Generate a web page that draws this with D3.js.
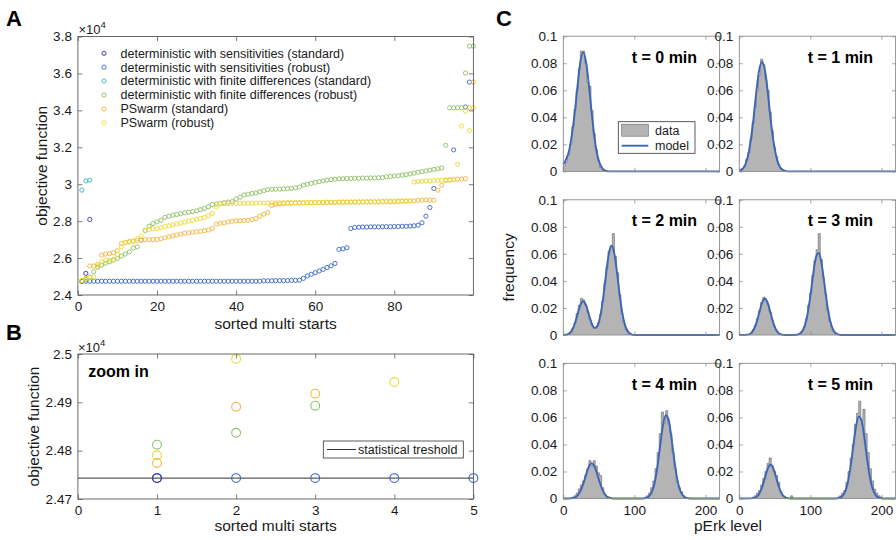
<!DOCTYPE html>
<html><head><meta charset="utf-8">
<script src="https://cdn.jsdelivr.net/npm/d3@7"></script>
<style>body{margin:0;background:#fff}</style>
</head><body>
<script>
// ---------------- DATA ----------------
const seriesNames = [
  "deterministic with sensitivities (standard)",
  "deterministic with sensitivities (robust)",
  "deterministic with finite differences (standard)",
  "deterministic with finite differences (robust)",
  "PSwarm (standard)",
  "PSwarm (robust)"
];
const seriesColors = ["#3d2f9c", "#3866c2", "#35b5c6", "#8cc063", "#f3b43c", "#ecd92e"];

// Panel A: objective function (x 1e4) by sorted multi-start index 1..100
const sensStd = [2.4745, 2.517, 2.809];
const sensRob = [
  2.4745,2.4745,2.4745,2.4745,2.4745,2.4745,2.4745,2.4745,2.4745,2.4745,
  2.4745,2.4745,2.4745,2.4745,2.4745,2.4745,2.4745,2.4745,2.4745,2.4745,
  2.4745,2.4745,2.4745,2.4745,2.4745,2.4745,2.4745,2.4745,2.4745,2.4745,
  2.4745,2.4745,2.4745,2.4745,2.4745,2.4745,2.4745,2.4745,2.4745,2.4745,
  2.4745,2.4745,2.4745,2.4745,2.4745,2.4745,2.477,2.477,2.477,2.478,
  2.478,2.478,2.478,2.479,2.479,2.480,2.490,2.503,2.512,2.521,
  2.530,2.539,2.549,2.558,2.571,2.647,2.650,2.656,2.760,2.766,
  2.767,2.768,2.768,2.769,2.769,2.769,2.770,2.770,2.770,2.771,
  2.771,2.772,2.772,2.773,2.775,2.778,2.791,2.827,2.874,2.977,
  null,null,null,null,3.186,null,null,3.418,3.553,null
];
const fdStd = [2.968, 3.018, 3.022];
const fdRob = [
  2.476,2.484,2.497,2.526,2.550,2.562,2.572,2.580,2.589,2.598,
  2.611,2.622,2.634,2.655,2.661,2.697,2.748,2.773,2.787,2.796,
  2.805,2.820,2.827,2.832,2.836,2.840,2.845,2.848,2.852,2.856,
  2.862,2.869,2.878,2.890,2.893,2.896,2.900,2.903,2.906,2.920,
  2.930,2.942,2.946,2.950,2.953,2.960,2.965,2.971,2.972,2.973,
  2.974,2.975,2.976,2.977,2.980,2.985,2.995,3.000,3.005,3.010,
  3.014,3.018,3.022,3.025,3.027,3.029,3.030,3.031,3.031,3.032,
  3.032,3.033,3.033,3.034,3.034,3.035,3.036,3.040,3.042,3.044,
  3.046,3.049,3.052,3.056,3.060,3.065,3.068,3.072,3.076,3.080,
  3.084,3.088,3.211,3.414,3.414,3.414,3.414,3.602,3.748,3.748
];
const psStd = [
  2.478,2.490,2.557,2.557,2.565,2.616,2.622,2.625,2.629,2.640,
  2.679,2.685,2.690,2.692,2.695,2.697,2.700,2.700,2.700,2.701,
  2.705,2.710,2.715,2.720,2.725,2.730,2.735,2.737,2.740,2.742,
  2.745,2.748,2.752,2.760,2.784,2.788,2.791,2.796,2.799,2.802,
  2.802,2.803,2.805,2.808,2.814,2.827,2.838,2.847,2.885,2.890,
  2.893,2.895,2.896,2.897,2.898,2.898,2.899,2.899,2.900,2.900,
  2.900,2.900,2.901,2.901,2.901,2.902,2.902,2.902,2.903,2.903,
  2.903,2.903,2.904,2.904,2.904,2.904,2.905,2.905,2.905,2.905,
  2.906,2.907,2.908,2.909,2.910,2.912,2.914,2.915,2.915,2.913,
  2.968,2.995,3.020,3.022,3.025,3.027,3.028,3.030,3.414,3.553
];
const psRob = [
  2.478,2.490,2.495,2.497,2.556,2.580,2.585,2.590,2.593,2.620,
  2.660,2.683,2.686,2.690,2.705,2.720,2.751,2.755,2.758,2.760,
  2.765,2.770,2.775,2.780,2.785,2.790,2.795,2.800,2.805,2.810,
  2.815,2.820,2.830,2.842,2.877,2.895,2.895,2.895,2.896,2.896,
  2.896,2.897,2.897,2.897,2.898,2.898,2.898,2.899,2.899,2.899,
  2.900,2.900,2.900,2.900,2.901,2.901,2.901,2.901,2.902,2.902,
  2.902,2.902,2.903,2.903,2.903,2.903,2.904,2.904,2.904,2.905,
  2.905,2.905,2.906,2.906,2.906,2.907,2.907,2.908,2.908,2.909,
  2.909,2.910,2.910,2.910,3.012,3.014,3.015,3.017,3.018,3.020,
  3.021,3.022,3.024,3.025,3.026,3.108,3.315,3.396,3.290,3.414
];
const seriesA = [sensStd, sensRob, fdStd, fdRob, psStd, psRob];
const xTicksA = [0, 20, 40, 60, 80];
const yTicksA = [2.4, 2.6, 2.8, 3.0, 3.2, 3.4, 3.6, 3.8];

// Panel B: zoom on best starts 1..5
const zSensStd = [2.47432, null, null, null, null];
const zSensRob = [2.47432, 2.47432, 2.47432, 2.47432, 2.47432];
const zFdStd   = [null, null, null, null, null];
const zFdRob   = [2.48124, 2.4837, 2.4893, null, null];
const zPsStd   = [2.47746, 2.4891, 2.4918, null, null];
const zPsRob   = [2.47904, 2.4990, null, 2.4942, null];
const seriesB = [zSensStd, zSensRob, zFdStd, zFdRob, zPsStd, zPsRob];
const threshold = 2.47432;
const xTicksB = [0, 1, 2, 3, 4, 5];
const yTicksB = [2.47, 2.48, 2.49, 2.5];

// Panel C: pErk histograms (bin width 3; segments [first bin edge, frequencies])
const binWidth = 3;
const timeLabels = ["t = 0 min", "t = 1 min", "t = 2 min", "t = 3 min", "t = 4 min", "t = 5 min"];
const histT0 = [[0, [0.004,0.007,0.012,0.020,0.033,0.046,0.060,0.076,0.089,0.089,0.080,0.066,0.063,0.045,0.028,0.016,0.008,0.003,0.001]]];
const histT1 = [[3, [0.002,0.004,0.009,0.014,0.024,0.036,0.048,0.060,0.071,0.083,0.079,0.068,0.060,0.044,0.030,0.018,0.011,0.005,0.002]]];
const histT2 = [[9, [0.002,0.005,0.009,0.016,0.022,0.027,0.026,0.022,0.017,0.011,0.007,0.005,0.005,0.009,0.015,0.025,0.038,0.050,0.062,0.066,0.075,0.058,0.046,0.030,0.016,0.008,0.004,0.001]]];
const histT3 = [[15, [0.001,0.004,0.007,0.012,0.018,0.024,0.028,0.025,0.022,0.017,0.011,0.006,0.003,0.001]],
                [84, [0.001,0.003,0.006,0.012,0.022,0.031,0.044,0.055,0.063,0.075,0.056,0.042,0.030,0.018,0.010,0.004,0.002]]];
const histT4 = [[12, [0.001,0.002,0.004,0.007,0.010,0.013,0.017,0.022,0.028,0.024,0.028,0.024,0.019,0.017,0.008,0.003,0.001,0.001]],
                [114, [0.001,0.002,0.004,0.008,0.013,0.022,0.034,0.048,0.064,0.056,0.065,0.055,0.048,0.034,0.022,0.012,0.008,0.005,0.002]]];
const histT5 = [[18, [0.001,0.002,0.004,0.006,0.010,0.015,0.020,0.026,0.030,0.024,0.020,0.017,0.012,0.005,0.002,0.001]],
                [72, [0.002]],
                [138, [0.001,0.002,0.004,0.006,0.012,0.020,0.030,0.040,0.055,0.063,0.072,0.058,0.066,0.048,0.034,0.022,0.013,0.007,0.004,0.002,0.001]]];
// model curves sampled every 4 pErk units starting at given level
const modelStep = 4;
const modelT0 = [0, [0.005,0.009,0.015,0.027,0.043,0.063,0.081,0.088,0.081,0.064,0.043,0.0245,0.012,0.005,0.0017,0.0004]];
const modelT1 = [0, [0.0005,0.0016,0.0045,0.011,0.0225,0.039,0.059,0.075,0.081,0.075,0.059,0.039,0.0225,0.011,0.0045,0.0016,0.0005]];
const modelT2 = [4, [0.0003,0.0011,0.0034,0.0081,0.0152,0.0221,0.025,0.0221,0.0152,0.0086,0.0053,0.0067,0.0139,0.0271,0.0445,0.0598,0.066,0.0598,0.0445,0.0271,0.0136,0.0056,0.0019,0.0005]];
const modelT3 = [12, [0.0003,0.0012,0.0037,0.0088,0.0164,0.0238,0.027,0.0238,0.0164,0.0088,0.0037,0.0012,0.0003,0,0,0,0,0.0002,0.0007,0.0023,0.0066,0.0152,0.0289,0.0451,0.0577,0.0606,0.0523,0.037,0.0215,0.0102,0.004,0.0013,0.0003]];
const modelT4 = [12, [0.0002,0.0007,0.0022,0.0054,0.0107,0.0175,0.0236,0.026,0.0236,0.0175,0.0107,0.0054,0.0022,0.0007,0.0002,0,0,0,0,0,0,0,0,0,0,0,0.0003,0.0013,0.0041,0.0104,0.0218,0.0376,0.0531,0.0616,0.0587,0.0458,0.0294,0.0154,0.0067,0.0024,0.0007,0.0002]];
const modelT5 = [20, [0.0003,0.0011,0.0034,0.0081,0.0152,0.0221,0.025,0.0221,0.0152,0.0081,0.0034,0.0011,0.0003,0,0,0,0,0,0,0,0,0,0,0,0,0,0,0,0,0,0.0003,0.0013,0.004,0.0102,0.0215,0.037,0.0523,0.0606,0.0577,0.0451,0.0289,0.0152,0.0066,0.0023,0.0007,0.0002]];
const histsC = [histT0, histT1, histT2, histT3, histT4, histT5];
const modelsC = [modelT0, modelT1, modelT2, modelT3, modelT4, modelT5];
const xDomainC = [0, 220];
const xTicksC = [0, 100, 200];
const yTicksC = [0, 0.02, 0.04, 0.06, 0.08, 0.1];

// ---------------- DRAW ----------------
const FF = '"Liberation Sans", Arial, Helvetica, sans-serif';
const W = 896, H = 540;
const svg = d3.select("body").append("svg").attr("width", W).attr("height", H)
  .attr("font-family", FF).style("background", "#fff");

function drawAxes(g, x, y, xt, yt, o) {
  const [x0, x1] = x.range(), [y0, y1] = y.range();
  const style = sel => {
    sel.attr("font-family", FF).attr("font-size", o.fs);
    sel.select(".domain").remove();
    sel.selectAll("line").attr("stroke", o.color).attr("stroke-width", 0.8);
    sel.selectAll("text").attr("fill", "#1a1a1a");
  };
  g.append("g").attr("transform", `translate(0,${y0})`)
    .call(d3.axisBottom(x).tickValues(xt).tickSizeInner(-o.tick).tickSizeOuter(0).tickPadding(o.padX)
      .tickFormat(o.xlabels ? o.xfmt : () => "")).call(style);
  g.append("g").attr("transform", `translate(0,${y1})`)
    .call(d3.axisTop(x).tickValues(xt).tickSizeInner(-o.tick).tickSizeOuter(0).tickFormat(() => "")).call(style);
  g.append("g").attr("transform", `translate(${x0},0)`)
    .call(d3.axisLeft(y).tickValues(yt).tickSizeInner(-o.tick).tickSizeOuter(0).tickPadding(o.padY)
      .tickFormat(o.ylabels ? o.yfmt : () => "")).call(style);
  g.append("g").attr("transform", `translate(${x1},0)`)
    .call(d3.axisRight(y).tickValues(yt).tickSizeInner(-o.tick).tickSizeOuter(0).tickFormat(() => "")).call(style);
  g.append("rect").attr("x", x0).attr("y", y1).attr("width", x1 - x0).attr("height", y0 - y1)
    .attr("fill", "none").attr("stroke", o.color).attr("stroke-width", 0.9);
}

function panelLetter(txt, x, y) {
  svg.append("text").attr("x", x).attr("y", y).attr("font-size", 22).attr("font-weight", "bold").text(txt);
}
function times10(x, y) {
  const t = svg.append("text").attr("x", x).attr("y", y).attr("font-size", 13).attr("fill", "#1a1a1a");
  t.append("tspan").text("\u00d710");
  t.append("tspan").attr("dy", -6).attr("font-size", 9.5).text("4");
}
const fmtG = d3.format("~g");

// ---- Panel A ----
const xA = d3.scaleLinear().domain([0, 100]).range([77.9, 473.4]);
const yA = d3.scaleLinear().domain([2.4, 3.8]).range([295, 36.5]);
const gA = svg.append("g");
const drawOrder = [1, 0, 2, 3, 4, 5];
drawOrder.forEach(s => {
  gA.append("g").selectAll("circle")
    .data(seriesA[s].map((v, i) => [i + 1, v]).filter(d => d[1] !== null))
    .join("circle").attr("cx", d => xA(d[0])).attr("cy", d => yA(d[1])).attr("r", 2.1)
    .attr("fill", "none").attr("stroke", seriesColors[s]).attr("stroke-width", 0.9);
});
drawAxes(gA, xA, yA, xTicksA, yTicksA, {fs: 13.5, color: "#5a5a5a", tick: 4.5, padX: 6, padY: 6,
  xlabels: true, ylabels: true, xfmt: fmtG, yfmt: fmtG});
// legend A (no box)
seriesNames.forEach((n, i) => {
  const yy = 53.3 + i * 13.9;
  gA.append("circle").attr("cx", 104).attr("cy", yy).attr("r", 2.1).attr("fill", "none")
    .attr("stroke", seriesColors[i]).attr("stroke-width", 0.9);
  gA.append("text").attr("x", 120.5).attr("y", yy + 4.3).attr("font-size", 12.5).attr("fill", "#1a1a1a").text(n);
});
gA.append("text").attr("x", (77.9 + 473.4) / 2).attr("y", 328.5).attr("text-anchor", "middle")
  .attr("font-size", 15.5).attr("fill", "#1a1a1a").text("sorted multi starts");
gA.append("text").attr("transform", `translate(47,${(36.5 + 295) / 2}) rotate(-90)`).attr("text-anchor", "middle")
  .attr("font-size", 15.5).attr("fill", "#1a1a1a").text("objective function");
times10(78.5, 34);
panelLetter("A", 6, 25.5);

// ---- Panel B ----
const xB = d3.scaleLinear().domain([0, 5]).range([77.9, 473.4]);
const yB = d3.scaleLinear().domain([2.47, 2.5]).range([499, 354]);
const gB = svg.append("g");
gB.append("line").attr("x1", xB(0)).attr("x2", xB(5)).attr("y1", yB(threshold)).attr("y2", yB(threshold))
  .attr("stroke", "#333").attr("stroke-width", 1);
drawOrder.forEach(s => {
  gB.append("g").selectAll("circle")
    .data(seriesB[s].map((v, i) => [i + 1, v]).filter(d => d[1] !== null))
    .join("circle").attr("cx", d => xB(d[0])).attr("cy", d => yB(d[1])).attr("r", 4.4)
    .attr("fill", "none").attr("stroke", seriesColors[s]).attr("stroke-width", 1.1);
});
drawAxes(gB, xB, yB, xTicksB, yTicksB, {fs: 13.5, color: "#5a5a5a", tick: 4.5, padX: 6, padY: 6,
  xlabels: true, ylabels: true, xfmt: fmtG, yfmt: fmtG});
gB.append("text").attr("x", 88.3).attr("y", 376.5).attr("font-size", 16).attr("font-weight", "bold").text("zoom in");
// legend B
gB.append("rect").attr("x", 323.3).attr("y", 441).attr("width", 140).attr("height", 17)
  .attr("fill", "#fff").attr("stroke", "#333").attr("stroke-width", 0.8);
gB.append("line").attr("x1", 327).attr("x2", 356).attr("y1", 449.5).attr("y2", 449.5).attr("stroke", "#333").attr("stroke-width", 1);
gB.append("text").attr("x", 358).attr("y", 454).attr("font-size", 12.5).attr("fill", "#1a1a1a").text("statistical treshold");
gB.append("text").attr("x", (77.9 + 473.4) / 2).attr("y", 531).attr("text-anchor", "middle")
  .attr("font-size", 15.5).attr("fill", "#1a1a1a").text("sorted multi starts");
gB.append("text").attr("transform", `translate(39,${(354 + 499) / 2}) rotate(-90)`).attr("text-anchor", "middle")
  .attr("font-size", 15.5).attr("fill", "#1a1a1a").text("objective function");
times10(78, 351.5);
panelLetter("B", 6, 339.5);

// ---- Panel C ----
const colLeft = [563.3, 739.3], colW = 156.3;
const rowTop = [36.2, 199.8, 363.3], rowH = 135.2;
histsC.forEach((hist, k) => {
  const col = k % 2, row = Math.floor(k / 2);
  const x = d3.scaleLinear().domain(xDomainC).range([colLeft[col], colLeft[col] + colW]);
  const y = d3.scaleLinear().domain([0, 0.1]).range([rowTop[row] + rowH, rowTop[row]]);
  const g = svg.append("g");
  hist.forEach(([lo, vals]) => {
    const bins = vals.map((v, j) => ({a: lo + j * binWidth, b: lo + (j + 1) * binWidth, v}));
    const pts = [[lo, 0]];
    bins.forEach(d => { pts.push([d.a, d.v]); pts.push([d.b, d.v]); });
    pts.push([bins[bins.length - 1].b, 0]);
    const path = d3.line().x(d => x(d[0])).y(d => y(d[1]))(pts);
    g.append("path").attr("d", path + "Z").attr("fill", "#b4b4b4").attr("stroke", "none");
    g.append("path").attr("d", path)
      .attr("fill", "none").attr("stroke", "#666").attr("stroke-width", 0.6);
  });
  const [mlo, mv] = modelsC[k];
  const mpts = [];
  if (mlo > 0) mpts.push([0, 0]);
  mv.forEach((v, j) => mpts.push([mlo + j * modelStep, v]));
  const mEnd = mlo + (mv.length - 1) * modelStep;
  if (mEnd + modelStep < 220) mpts.push([mEnd + modelStep, 0]);
  mpts.push([220, 0]);
  g.append("path").attr("d", d3.line().x(d => x(d[0])).y(d => y(d[1])).curve(d3.curveMonotoneX)(mpts))
    .attr("fill", "none").attr("stroke", "#3b65b8").attr("stroke-width", 1.9);
  drawAxes(g, x, y, xTicksC, yTicksC, {fs: 13.5, color: "#8a8a8a", tick: 3.5, padX: 7, padY: 6,
    xlabels: row === 2, ylabels: true, xfmt: fmtG, yfmt: fmtG});
  g.append("text").attr("x", colLeft[col] + colW - 22.5).attr("y", rowTop[row] + 26.3)
    .attr("text-anchor", "end").attr("font-size", 16).attr("font-weight", "bold").text(timeLabels[k]);
  if (k === 0) {
    const lx = colLeft[col] + 55, ly = rowTop[row] + 85.5;
    g.append("rect").attr("x", lx).attr("y", ly).attr("width", 76.7).attr("height", 31.6)
      .attr("fill", "#fff").attr("stroke", "#333").attr("stroke-width", 0.8);
    g.append("rect").attr("x", lx + 3.4).attr("y", ly + 2.5).attr("width", 26.6).attr("height", 12)
      .attr("fill", "#b4b4b4").attr("stroke", "#666").attr("stroke-width", 0.6);
    g.append("text").attr("x", lx + 36.7).attr("y", ly + 13.5).attr("font-size", 12.5).attr("fill", "#1a1a1a").text("data");
    g.append("line").attr("x1", lx + 3.4).attr("x2", lx + 30).attr("y1", ly + 24).attr("y2", ly + 24)
      .attr("stroke", "#3b65b8").attr("stroke-width", 1.9);
    g.append("text").attr("x", lx + 36.7).attr("y", ly + 28.3).attr("font-size", 12.5).attr("fill", "#1a1a1a").text("model");
  }
});
svg.append("text").attr("x", 728).attr("y", 531).attr("text-anchor", "middle")
  .attr("font-size", 15.5).attr("fill", "#1a1a1a").text("pErk level");
svg.append("text").attr("transform", `translate(514,${(36.2 + 498.5) / 2}) rotate(-90)`).attr("text-anchor", "middle")
  .attr("font-size", 15.5).attr("fill", "#1a1a1a").text("frequency");
panelLetter("C", 496, 25.5);
</script>
</body></html>
